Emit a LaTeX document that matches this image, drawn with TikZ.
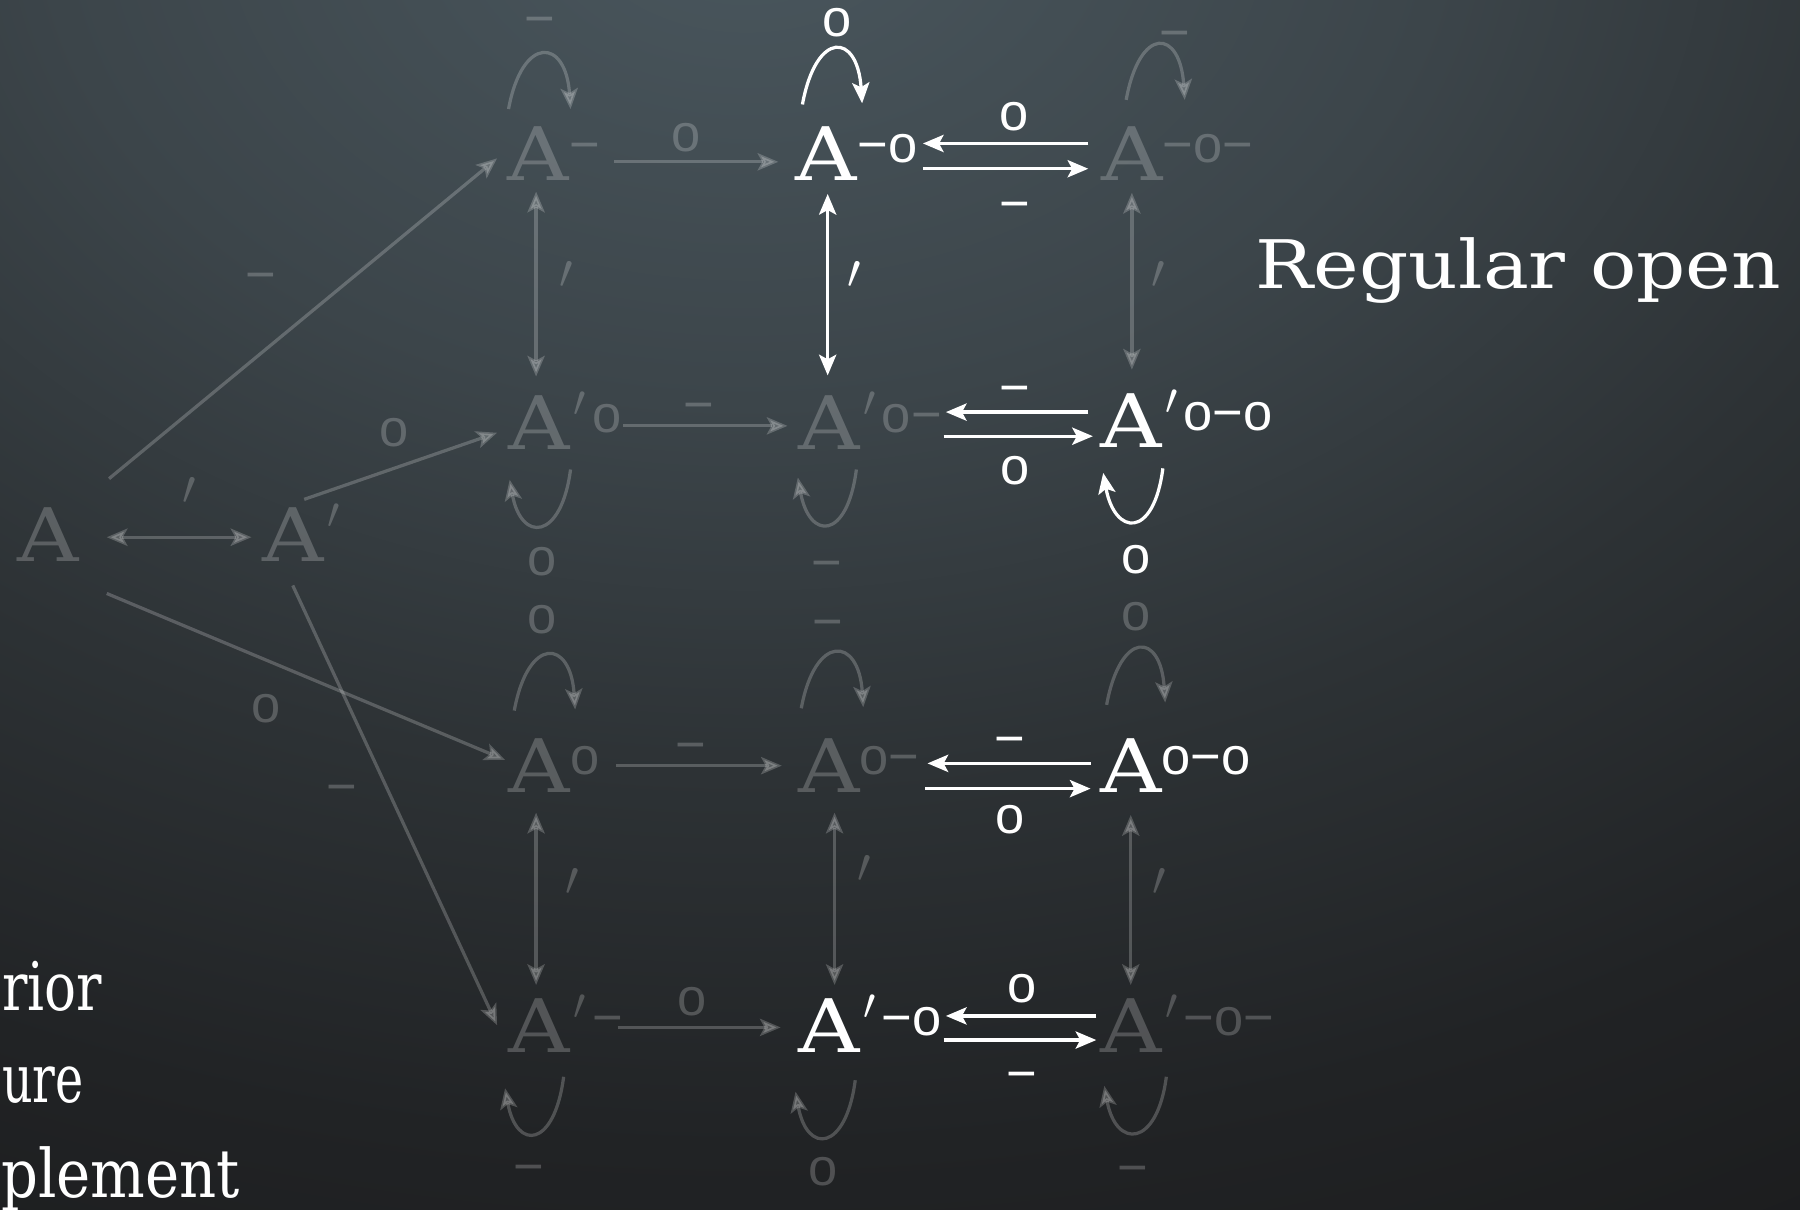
\documentclass[tikz,border=0pt]{standalone}
\usepackage{fontspec}
\usetikzlibrary{arrows.meta,calc}
\setmainfont{DejaVu Serif}
\newfontfamily\twf[FakeStretch=1.15]{DejaVu Serif}
\newfontfamily\lsans{Liberation Sans}
\definecolor{bgA}{RGB}{74,87,94}
\definecolor{bgB}{RGB}{60,69,74}
\definecolor{bgC}{RGB}{45,50,53}
\definecolor{bgD}{RGB}{33,35,37}
\definecolor{bgE}{RGB}{24,24,25}
\definecolor{bgF}{RGB}{17,17,17}
\pgfdeclareradialshading{bgshade}{\pgfpoint{0bp}{0bp}}{color(0bp)=(bgA); color(8bp)=(bgB); color(14bp)=(bgC); color(20bp)=(bgD); color(28bp)=(bgE); color(38bp)=(bgF); color(50bp)=(bgF)}
\newcommand\Afnt{\twf\fontsize{18.3pt}{20pt}\selectfont}
\newcommand\Tfnt{\twf\fontsize{16.6pt}{19pt}\selectfont}
\newcommand\Lfnt{\lsans\fontsize{13pt}{13pt}\selectfont}
\newcommand\Sp[1]{\raisebox{4.3pt}{\Lfnt #1}}
\newcommand\Pm{\raisebox{8.2pt}{\fontsize{11pt}{11pt}\selectfont$\prime$}\kern1.6pt}
\newcommand\Pe{\fontsize{12pt}{12pt}\selectfont$\prime$}
\begin{document}
\begin{tikzpicture}[x=0.1mm,y=-0.1mm,
  Aw/.style={inner sep=0pt, outer sep=0pt, anchor=base, text=white, font=\Afnt},
  Ag/.style={Aw, text opacity=0.21},
  Sw/.style={inner sep=0pt, outer sep=0pt, anchor=base west, text=white},
  Sg/.style={Sw, text opacity=0.21},
  Lw/.style={inner sep=0pt, outer sep=0pt, anchor=base, text=white, font=\Lfnt},
  Lg/.style={Lw, text opacity=0.21},
  Pw/.style={inner sep=0pt, outer sep=0pt, anchor=center, text=white},
  Pg/.style={Pw, text opacity=0.21},
  Tw/.style={inner sep=0pt, outer sep=0pt, text=white, font=\Tfnt},
  aw/.style={draw=white, line width=0.8pt, -{Stealth[length=1.8mm,width=1.5mm,inset=0.4mm]}},
  ag/.style={aw, opacity=0.21},
  bw/.style={draw=white, line width=0.8pt, {Stealth[length=1.8mm,width=1.5mm,inset=0.4mm]}-{Stealth[length=1.8mm,width=1.5mm,inset=0.4mm]}},
  bg/.style={bw, opacity=0.21}]
\useasboundingbox (0,0) rectangle (1568,1054);
\begin{scope}
\clip (0,0) rectangle (1568,1054);
\shade[shading=bgshade] (650,-80) ellipse [x radius=1900, y radius=1350];
\end{scope}

% main letters
\node[Ag] (a1) at (42,489) {A};
\node[Ag] (a2) at (255,489) {A};
\node[Ag] (a3) at (469,157) {A};
\node[Aw] (a4) at (720,157) {A};
\node[Ag] (a5) at (986,157) {A};
\node[Ag] (a6) at (470,392) {A};
\node[Ag] (a7) at (722,392) {A};
\node[Aw] (a8) at (985,390) {A};
\node[Ag] (a9) at (470,690) {A};
\node[Ag] (a10) at (722,690) {A};
\node[Aw] (a11) at (985,690) {A};
\node[Ag] (a12) at (470,917) {A};
\node[Aw] (a13) at (722,917) {A};
\node[Ag] (a14) at (985,917) {A};

% superscripts
\node[Sg] (s2) at ($(a2.base)+(30,0)$) {\Pm};
\node[Sg] (s3) at ($(a3.base)+(27,0)$) {\Sp{−}};
\node[Sw] (s4) at ($(a4.base)+(27,0)$) {\Sp{−o}};
\node[Sg] (s5) at ($(a5.base)+(27,0)$) {\Sp{−o−}};
\node[Sg] (s6) at ($(a6.base)+(30,0)$) {\Pm\Sp{o}};
\node[Sg] (s7) at ($(a7.base)+(30,0)$) {\Pm\Sp{o−}};
\node[Sw] (s8) at ($(a8.base)+(30,0)$) {\Pm\Sp{o−o}};
\node[Sg] (s9) at ($(a9.base)+(27,0)$) {\Sp{o}};
\node[Sg] (s10) at ($(a10.base)+(27,0)$) {\Sp{o−}};
\node[Sw] (s11) at ($(a11.base)+(27,0)$) {\Sp{o−o}};
\node[Sg] (s12) at ($(a12.base)+(30,0)$) {\Pm\Sp{−}};
\node[Sw] (s13) at ($(a13.base)+(30,0)$) {\Pm\Sp{−o}};
\node[Sg] (s14) at ($(a14.base)+(30,0)$) {\Pm\Sp{−o−}};

% texts
\node[Tw, anchor=base west] (t1) at (1094,251) {Regular open};
\node[Tw, anchor=base west] (t2) at (2,880) {\resizebox{8.7mm}{\height}{rior}};
\node[Tw, anchor=base west] (t3) at (2,960) {\resizebox{7.1mm}{\height}{ure}};
\node[Tw, anchor=base west] (t4) at (1,1043) {\resizebox{20.8mm}{\height}{plement}};

% left connectors
\draw[bg] ($(a1.base)+(51,-21)$) -- ($(a2.base)+(-36,-21)$);
\draw[ag] ($(a1.base)+(53,-72)$) -- ($(a3.base)+(-36,-19)$);
\draw[ag] ($(a2.base)+(10,-54)$) -- ($(a6.base)+(-37,-15)$);
\draw[ag] ($(a1.base)+(51,28)$) -- ($(a9.base)+(-30,-28)$);
\draw[ag] ($(a2.base)+(0,21)$) -- ($(a12.base)+(-37,-24)$);

% row arrows (grey)
\draw[ag] ($(a3.base)+(66,-16)$) -- ($(a4.base)+(-42,-16)$);
\draw[ag] ($(a6.base)+(73,-21)$) -- ($(a7.base)+(-36,-21)$);
\draw[ag] ($(a9.base)+(67,-23)$) -- ($(a10.base)+(-41,-23)$);
\draw[ag] ($(a12.base)+(68,-22)$) -- ($(a13.base)+(-42,-22)$);

% double arrows (white)
\draw[aw] ($(a5.base)+(-38,-32)$) -- ($(a4.base)+(84,-32)$);
\draw[aw] ($(a4.base)+(84,-10)$) -- ($(a5.base)+(-38,-10)$);
\draw[aw] ($(a8.base)+(-37,-31)$) -- ($(a7.base)+(102,-33)$);
\draw[aw] ($(a7.base)+(100,-12)$) -- ($(a8.base)+(-33,-10)$);
\draw[aw] ($(a11.base)+(-35,-25)$) -- ($(a10.base)+(86,-25)$);
\draw[aw] ($(a10.base)+(84,-3)$) -- ($(a11.base)+(-35,-3)$);
\draw[aw] ($(a14.base)+(-30,-32)$) -- ($(a13.base)+(102,-32)$);
\draw[aw] ($(a13.base)+(100,-11)$) -- ($(a14.base)+(-30,-11)$);

% vertical arrows
\draw[bg] ($(a3.base)+(-2,10)$) -- ($(a6.base)+(-3,-64)$);
\draw[bw] ($(a4.base)+(1,12)$) -- ($(a7.base)+(-1,-65)$);
\draw[bg] ($(a5.base)+(0,11)$) -- ($(a8.base)+(1,-68)$);
\draw[bg] ($(a9.base)+(-3,18)$) -- ($(a12.base)+(-3,-59)$);
\draw[bg] ($(a10.base)+(5,18)$) -- ($(a13.base)+(5,-59)$);
\draw[bg] ($(a11.base)+(0,20)$) -- ($(a14.base)+(0,-59)$);

% loops above
\draw[ag] ($(a3.base)+(-26,-62)$) .. controls +(12,-65) and +(-4,-62) .. ($(a3.base)+(28,-62)$);
\draw[aw] ($(a4.base)+(-21,-66)$) .. controls +(12,-65) and +(-4,-62) .. ($(a4.base)+(31,-67)$);
\draw[ag] ($(a5.base)+(-5,-70)$) .. controls +(12,-65) and +(-4,-62) .. ($(a5.base)+(46,-70)$);
\draw[ag] ($(a9.base)+(-22,-71)$) .. controls +(12,-65) and +(-4,-62) .. ($(a9.base)+(31,-72)$);
\draw[ag] ($(a10.base)+(-24,-73)$) .. controls +(12,-65) and +(-4,-62) .. ($(a10.base)+(30,-74)$);
\draw[ag] ($(a11.base)+(-21,-76)$) .. controls +(12,-65) and +(-4,-62) .. ($(a11.base)+(30,-78)$);

% loops below
\draw[ag] ($(a6.base)+(27,17)$) .. controls +(-8,62) and +(10,55) .. ($(a6.base)+(-26,26)$);
\draw[ag] ($(a7.base)+(24,17)$) .. controls +(-8,62) and +(10,55) .. ($(a7.base)+(-27,24)$);
\draw[aw] ($(a8.base)+(28,18)$) .. controls +(-8,62) and +(10,55) .. ($(a8.base)+(-24,22)$);
\draw[ag] ($(a12.base)+(21,21)$) .. controls +(-8,62) and +(10,55) .. ($(a12.base)+(-30,31)$);
\draw[ag] ($(a13.base)+(23,24)$) .. controls +(-8,62) and +(10,55) .. ($(a13.base)+(-29,34)$);
\draw[ag] ($(a14.base)+(31,21)$) .. controls +(-8,62) and +(10,55) .. ($(a14.base)+(-23,29)$);

% grey labels
\node[Lg] (g1) at (470,32) {−};
\node[Lg] (g2) at (598,132) {o};
\node[Lg] (g3) at (1023,44) {−};
\node[Lg] (g4) at (227,255) {−};
\node[Lg] (g5) at (343,389) {o};
\node[Lg] (g6) at (609,368) {−};
\node[Lg] (g7) at (472,501) {o};
\node[Lg] (g8) at (720,506) {−};
\node[Lg] (g9) at (472,552) {o};
\node[Lg] (g10) at (721,557) {−};
\node[Lg] (g11) at (990,549) {o};
\node[Lg] (g12) at (232,629) {o};
\node[Lg] (g13) at (602,664) {−};
\node[Lg] (g14) at (298,701) {−};
\node[Lg] (g15) at (603,885) {o};
\node[Lg] (g16) at (461,1032) {−};
\node[Lg] (g17) at (717,1033) {o};
\node[Lg] (g18) at (987,1033) {−};
% white labels
\node[Lw] (w1) at (729,32) {o};
\node[Lw] (w2) at (883,114) {o};
\node[Lw] (w3) at (884,193) {−};
\node[Lw] (w4) at (884,353) {−};
\node[Lw] (w5) at (884,422) {o};
\node[Lw] (w6) at (990,500) {o};
\node[Lw] (w7) at (880,659) {−};
\node[Lw] (w8) at (880,726) {o};
\node[Lw] (w9) at (890,873) {o};
\node[Lw] (w10) at (890,951) {−};
% prime labels
\node[Pg] (p1) at (165,428) {\Pe};
\node[Pg] (p2) at (493,240) {\Pe};
\node[Pw] (p3) at (744,240) {\Pe};
\node[Pg] (p4) at (1009,240) {\Pe};
\node[Pg] (p5) at (498,768) {\Pe};
\node[Pg] (p6) at (753,757) {\Pe};
\node[Pg] (p7) at (1010,768) {\Pe};
\end{tikzpicture}
\end{document}
